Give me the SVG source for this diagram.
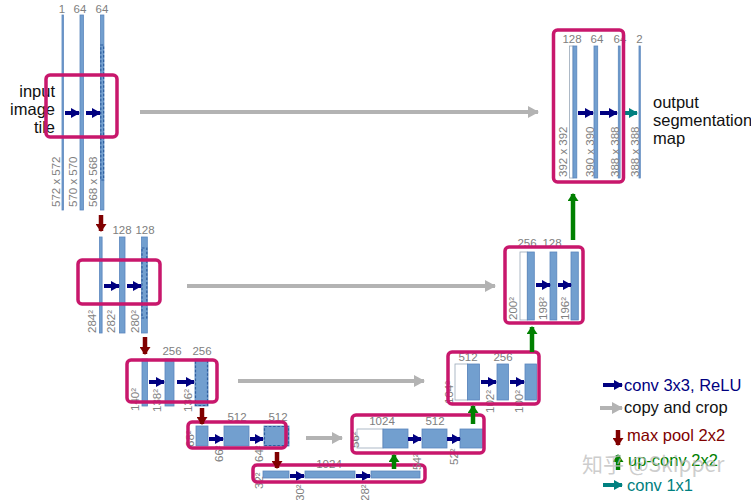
<svg xmlns="http://www.w3.org/2000/svg" width="751" height="500" viewBox="0 0 751 500">
<defs>
<style>
.bar{fill:#729fcf;stroke:#5a86bd;stroke-width:0.8}
.wbar{fill:#ffffff;stroke:#9aa8b8;stroke-width:0.8}
.crop{fill:none;stroke:#2f5f9f;stroke-width:1.2;stroke-dasharray:2.5,1.8}
.box{fill:none;stroke:#c8176c;stroke-width:3.5}
.num{font-family:"Liberation Sans",Arial,sans-serif;font-size:11.5px;fill:#808080;text-anchor:middle}
.vl{font-family:"Liberation Sans",Arial,sans-serif;font-size:11.5px;fill:#808080}
.big{font-family:"Liberation Sans",Arial,sans-serif;font-size:16.5px;fill:#111111}
.conv{stroke:#000080;stroke-width:4;fill:none;marker-end:url(#hNavy)}
.c11{stroke:#008080;stroke-width:4;fill:none;marker-end:url(#hTeal)}
.copy{stroke:#b3b3b3;stroke-width:4;fill:none;marker-end:url(#hGray)}
.pool{stroke:#800000;stroke-width:4.5;fill:none;marker-end:url(#hRed)}
.up{stroke:#008000;stroke-width:4.5;fill:none;marker-end:url(#hGreen)}
</style>
<marker id="hNavy" markerUnits="userSpaceOnUse" markerWidth="9" markerHeight="10" refX="8" refY="5" orient="auto"><path d="M0,0 L9,5 L0,10 z" fill="#000080"/></marker>
<marker id="hTeal" markerUnits="userSpaceOnUse" markerWidth="9" markerHeight="10" refX="8" refY="5" orient="auto"><path d="M0,0 L9,5 L0,10 z" fill="#008080"/></marker>
<marker id="hGray" markerUnits="userSpaceOnUse" markerWidth="11" markerHeight="12" refX="10" refY="6" orient="auto"><path d="M0,0 L11,6 L0,12 z" fill="#b3b3b3"/></marker>
<marker id="hRed" markerUnits="userSpaceOnUse" markerWidth="8" markerHeight="11" refX="7" refY="5.5" orient="auto"><path d="M0,0 L8,5.5 L0,11 z" fill="#800000"/></marker>
<marker id="hGreen" markerUnits="userSpaceOnUse" markerWidth="8" markerHeight="11" refX="7" refY="5.5" orient="auto"><path d="M0,0 L8,5.5 L0,11 z" fill="#008000"/></marker>
</defs>
<rect width="751" height="500" fill="#ffffff"/>

<g id="enc1">
<text class="big" text-anchor="end" x="55" y="97">input</text>
<text class="big" text-anchor="end" x="55" y="115">image</text>
<text class="big" text-anchor="end" x="55" y="133">tile</text>
<text class="num" x="62" y="13">1</text>
<text class="num" x="80" y="13">64</text>
<text class="num" x="102" y="13">64</text>
<rect class="bar" x="62" y="15" width="1.4" height="195"/>
<rect class="bar" x="80" y="15" width="3.4" height="195"/>
<rect class="bar" x="100.5" y="15" width="3.4" height="195"/>
<rect class="crop" x="100.8" y="45" width="2.8" height="135"/>
<text class="vl" transform="translate(60,207) rotate(-90)">572 x 572</text>
<text class="vl" transform="translate(77,207) rotate(-90)">570 x 570</text>
<text class="vl" transform="translate(97,207) rotate(-90)">568 x 568</text>
<line class="conv" x1="65" y1="113" x2="79" y2="113"/>
<line class="conv" x1="86" y1="113" x2="100" y2="113"/>
<rect class="box" x="46" y="75" width="71" height="62" rx="4"/>
</g>

<g id="enc2">
<text class="num" x="122" y="234">128</text>
<text class="num" x="145" y="234">128</text>
<rect class="bar" x="99.5" y="237" width="2.6" height="96"/>
<rect class="bar" x="119.5" y="237" width="5.5" height="96"/>
<rect class="bar" x="141.5" y="237" width="5.8" height="96"/>
<rect class="crop" x="142" y="248" width="4.8" height="70"/>
<text class="vl" transform="translate(96,333) rotate(-90)">284²</text>
<text class="vl" transform="translate(115,333) rotate(-90)">282²</text>
<text class="vl" transform="translate(139,333) rotate(-90)">280²</text>
<line class="conv" x1="104" y1="286" x2="119" y2="286"/>
<line class="conv" x1="127" y1="286" x2="141" y2="286"/>
<rect class="box" x="78" y="260" width="82" height="44" rx="4"/>
</g>

<g id="enc3">
<text class="num" x="172" y="355">256</text>
<text class="num" x="202" y="355">256</text>
<rect class="bar" x="142" y="359" width="5.5" height="47"/>
<rect class="bar" x="165" y="359" width="9" height="47"/>
<rect class="bar" x="195" y="359" width="13" height="47"/>
<rect class="crop" x="195.5" y="359.5" width="12" height="46"/>
<text class="vl" transform="translate(139,411) rotate(-90)">140²</text>
<text class="vl" transform="translate(161,412) rotate(-90)">138²</text>
<text class="vl" transform="translate(192,412) rotate(-90)">136²</text>
<line class="conv" x1="149" y1="382" x2="164" y2="382"/>
<line class="conv" x1="177" y1="382" x2="194" y2="382"/>
<rect class="box" x="127" y="360" width="90" height="42" rx="4"/>
</g>

<g id="enc4">
<text class="num" x="237" y="421">512</text>
<text class="num" x="278" y="421">512</text>
<rect class="bar" x="196" y="426" width="12" height="20"/>
<rect class="bar" x="224" y="426" width="25" height="20"/>
<rect class="bar" x="264" y="426" width="25" height="20"/>
<rect class="crop" x="264.5" y="426.5" width="24" height="19"/>
<text class="vl" transform="translate(194,447) rotate(-90)">68²</text>
<text class="vl" transform="translate(223,462) rotate(-90)">66²</text>
<text class="vl" transform="translate(263,462) rotate(-90)">64²</text>
<line class="conv" x1="209" y1="439" x2="223" y2="439"/>
<line class="conv" x1="250" y1="439" x2="263" y2="439"/>
<rect class="box" x="188" y="422" width="98" height="26" rx="4"/>
</g>

<g id="bottom">
<text class="num" x="329" y="468">1024</text>
<rect class="bar" x="263" y="471" width="26" height="7"/>
<rect class="bar" x="305" y="471" width="50" height="7"/>
<rect class="bar" x="371" y="471" width="49" height="7"/>
<text class="vl" transform="translate(263,489) rotate(-90)">32²</text>
<text class="vl" transform="translate(304,501) rotate(-90)">30²</text>
<text class="vl" transform="translate(369,501) rotate(-90)">28²</text>
<line class="conv" x1="290" y1="476" x2="304" y2="476"/>
<line class="conv" x1="356" y1="476" x2="370" y2="476"/>
<rect class="box" x="253" y="465" width="172" height="17" rx="4"/>
</g>

<g id="dec4">
<text class="num" x="382" y="425">1024</text>
<text class="num" x="435" y="425">512</text>
<rect class="wbar" x="357" y="429" width="26" height="19"/>
<rect class="bar" x="383" y="429" width="25" height="19"/>
<rect class="bar" x="422" y="429" width="25" height="19"/>
<rect class="bar" x="460" y="429" width="23" height="19"/>
<text class="vl" transform="translate(359,448) rotate(-90)">56²</text>
<text class="vl" transform="translate(421,470) rotate(-90)">54²</text>
<text class="vl" transform="translate(458,465) rotate(-90)">52²</text>
<line class="conv" x1="408" y1="439" x2="421" y2="439"/>
<line class="conv" x1="447" y1="439" x2="460" y2="439"/>
<rect class="box" x="352" y="415" width="132" height="38" rx="4"/>
</g>

<g id="dec3">
<text class="num" x="468" y="361">512</text>
<text class="num" x="503" y="361">256</text>
<rect class="wbar" x="455" y="364" width="12.5" height="36"/>
<rect class="bar" x="467.5" y="364" width="12" height="36"/>
<rect class="bar" x="497" y="364" width="11.5" height="36"/>
<rect class="bar" x="525" y="364" width="11.5" height="36"/>
<text class="vl" transform="translate(453,404) rotate(-90)">104²</text>
<text class="vl" transform="translate(494,413) rotate(-90)">102²</text>
<text class="vl" transform="translate(523,413) rotate(-90)">100²</text>
<line class="conv" x1="481" y1="382" x2="496" y2="382"/>
<line class="conv" x1="510" y1="382" x2="524" y2="382"/>
<rect class="box" x="448" y="352" width="91" height="52" rx="4"/>
</g>

<g id="dec2">
<text class="num" x="527" y="247">256</text>
<text class="num" x="552" y="247">128</text>
<rect class="wbar" x="520" y="252" width="7.3" height="68"/>
<rect class="bar" x="527.3" y="252" width="7" height="68"/>
<rect class="bar" x="550" y="252" width="6.8" height="68"/>
<rect class="bar" x="571" y="252" width="7.3" height="68"/>
<text class="vl" transform="translate(517,320) rotate(-90)">200²</text>
<text class="vl" transform="translate(547,320) rotate(-90)">198²</text>
<text class="vl" transform="translate(569,320) rotate(-90)">196²</text>
<line class="conv" x1="536" y1="285" x2="550" y2="285"/>
<line class="conv" x1="558" y1="285" x2="571" y2="285"/>
<rect class="box" x="505" y="247" width="78" height="76" rx="4"/>
</g>

<g id="dec1">
<text class="num" x="572" y="43">128</text>
<text class="num" x="597" y="43">64</text>
<text class="num" x="620" y="43">64</text>
<text class="num" x="639.5" y="43">2</text>
<rect class="wbar" x="569.5" y="46" width="3.5" height="132"/>
<rect class="bar" x="573" y="46" width="3.8" height="132"/>
<rect class="bar" x="594" y="46" width="3.7" height="132"/>
<rect class="bar" x="618.3" y="46" width="1.8" height="132"/>
<rect class="bar" x="639" y="46" width="1.3" height="132"/>
<text class="vl" transform="translate(567,177) rotate(-90)">392 x 392</text>
<text class="vl" transform="translate(594,177) rotate(-90)">390 x 390</text>
<text class="vl" transform="translate(619,177) rotate(-90)">388 x 388</text>
<text class="vl" transform="translate(639,177) rotate(-90)">388 x 388</text>
<line class="conv" x1="578" y1="113" x2="593" y2="113"/>
<line class="conv" x1="600" y1="113" x2="617" y2="113"/>
<line class="c11" x1="622" y1="113" x2="637" y2="113"/>
<rect class="box" x="553.5" y="30" width="70" height="152" rx="4"/>
<text class="big" x="653" y="108">output</text>
<text class="big" x="653" y="126">segmentation</text>
<text class="big" x="653" y="144">map</text>
</g>

<g id="connectors">
<line class="copy" x1="140" y1="112" x2="538" y2="112"/>
<line class="copy" x1="187" y1="286" x2="495" y2="286"/>
<line class="copy" x1="238" y1="381" x2="424" y2="381"/>
<line class="copy" x1="306" y1="438" x2="342" y2="438"/>
<line class="pool" x1="101" y1="215" x2="101" y2="231"/>
<line class="pool" x1="145" y1="337" x2="145" y2="354"/>
<line class="pool" x1="202" y1="408" x2="202" y2="424"/>
<line class="pool" x1="277" y1="452" x2="277" y2="468"/>
<line class="up" x1="394" y1="469" x2="394" y2="455"/>
<line class="up" x1="473" y1="424" x2="473" y2="406"/>
<line class="up" x1="532" y1="352" x2="532" y2="327"/>
<line class="up" x1="573" y1="240" x2="573" y2="194"/>
</g>

<g id="legend">
<line class="conv" x1="603" y1="385" x2="622" y2="385"/>
<text class="big" x="624" y="391" style="fill:#000080">conv 3x3, ReLU</text>
<line class="copy" x1="600" y1="408" x2="622" y2="408"/>
<text class="big" x="624" y="413">copy and crop</text>
<line class="pool" x1="618" y1="430" x2="618" y2="445"/>
<text class="big" x="627" y="441" style="fill:#800000">max pool 2x2</text>
<line class="up" x1="618" y1="470" x2="618" y2="455"/>
<text class="big" x="628" y="466" style="fill:#008000">up-conv 2x2</text>
<line class="c11" x1="603" y1="485" x2="622" y2="485"/>
<text class="big" x="627" y="491" style="fill:#008080">conv 1x1</text>
<text x="582" y="472" style="font-family:'Noto Sans CJK SC','Liberation Sans',sans-serif;font-size:21px;fill:#bdbdbd;fill-opacity:0.75">知乎 @Skipper</text>
</g>
</svg>
